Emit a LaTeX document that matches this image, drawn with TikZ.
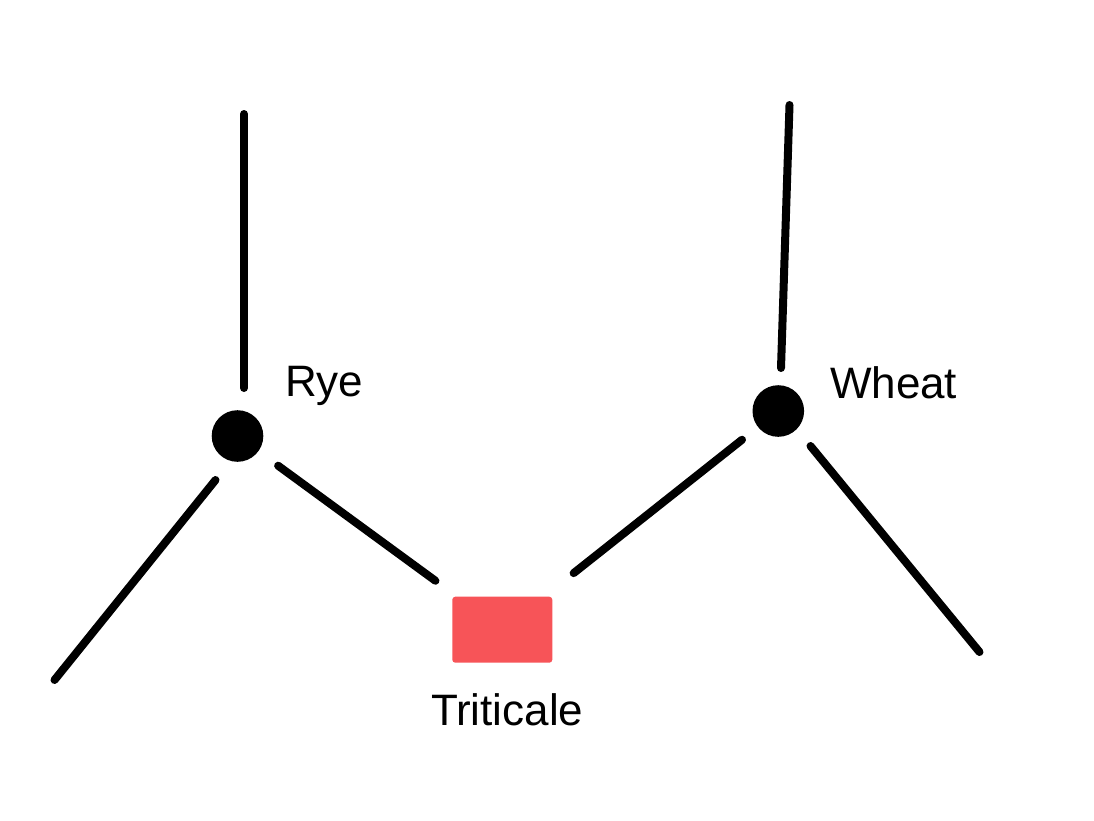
\documentclass[tikz,border=0pt]{standalone}
\usepackage{fontspec}
\setmainfont{Liberation Sans}
\begin{document}
\begin{tikzpicture}[x=1pt,y=-1pt,
  dotnode/.style={circle,fill=black,minimum size=51.6pt,inner sep=0pt,outer sep=0pt},
  crossnode/.style={rectangle,fill=tri,rounded corners=3pt,minimum width=100pt,minimum height=66pt,inner sep=0pt,outer sep=0pt},
  lbl/.style={font=\fontsize{44}{50}\selectfont,inner sep=0pt,outer sep=0pt,anchor=base west},
  edge/.style={line width=8pt,line cap=round}]
\definecolor{tri}{HTML}{F75458}
\useasboundingbox[fill=white] (0,0) rectangle (1094,820);
\node[dotnode] (rye) at (237.5,436) {};
\node[dotnode] (wheat) at (778.3,411) {};
\node[crossnode] (tri) at (502.3,629.7) {};
\node[lbl] (ryelbl) at (285,396) {Rye};
\node[lbl] (wheatlbl) at (830,398) {Wheat};
\node[lbl] (trilbl) at (431,725) {Triticale};
\coordinate (ryeTopA) at (244,388);
\coordinate (ryeTopB) at (244,114);
\coordinate (ryeLowA) at (215.5,480);
\coordinate (ryeLowB) at (54.5,680);
\coordinate (wheatTopA) at (781,368);
\coordinate (wheatTopB) at (789.5,105);
\coordinate (wheatLowA) at (810.5,446);
\coordinate (wheatLowB) at (979.5,652);
\draw[edge] (ryeTopA) -- (ryeTopB);
\draw[edge] (ryeLowA) -- (ryeLowB);
\draw[edge] (wheatTopA) -- (wheatTopB);
\draw[edge] (wheatLowA) -- (wheatLowB);
\draw[edge,shorten <=24.5pt,shorten >=27pt] (rye) -- (tri);
\draw[edge,shorten <=20.5pt,shorten >=38pt] (wheat) -- (tri);
\end{tikzpicture}
\end{document}
